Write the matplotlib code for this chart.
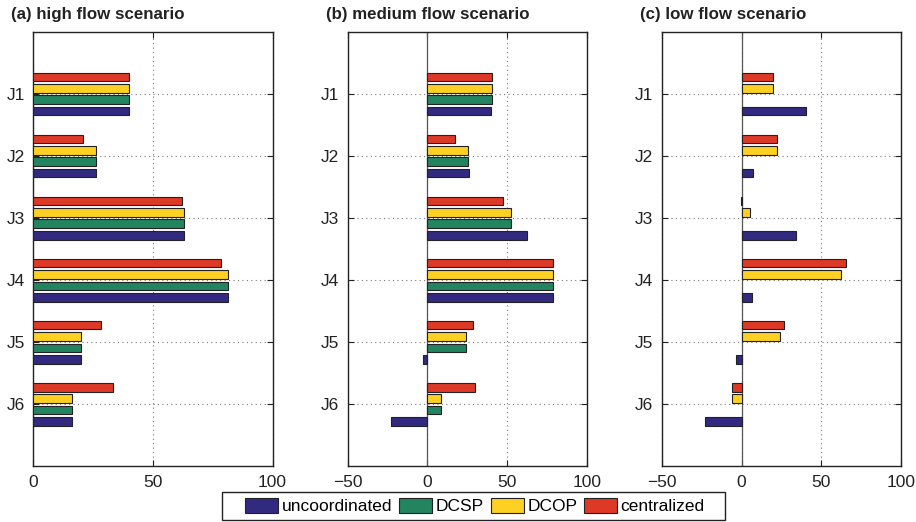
import numpy as np
import matplotlib
matplotlib.use("Agg")
import matplotlib.pyplot as plt
from matplotlib.patches import Patch, Rectangle

plt.rcParams['font.family'] = ['Liberation Sans', 'DejaVu Sans']

# ====== data =======
jobs = ["J1", "J2", "J3", "J4", "J5", "J6"]
methods = ["uncoordinated", "DCSP", "DCOP", "centralized"]
colors = ["#312a80", "#23855f", "#fdd023", "#dd3926"]
titles = ["(a) high flow scenario", "(b) medium flow scenario", "(c) low flow scenario"]

# high flow
high_unc = [40, 26.2, 63.2, 81.5, 20, 16.2]
high_dcsp = [40, 26.2, 63, 81.3, 20, 16.2]
high_dcop = [40, 26.2, 63, 81.3, 20, 16.2]
high_cen = [40, 21, 62.2, 78.4, 28.2, 33.3]

# medium flow
med_unc = [40, 26.4, 62.5, 78.9, -2.9, -23]
med_dcsp = [40.3, 25.2, 52.7, 78.7, 24.3, 8.8]
med_dcop = [40.3, 25.2, 52.7, 78.7, 24.3, 8.8]
med_cen = [40.3, 17.4, 47.6, 78.7, 28.7, 29.6]

# low flow (no DCSP result)
low_unc = [40.2, 7.1, 33.9, 6.7, -3.3, -23]
low_dcsp = [np.nan] * 6
low_dcop = [20, 22.4, 5.4, 62.1, 24.3, -5.9]
low_cen = [20, 22.2, -0.3, 65.5, 26.8, -5.9]

scenarios = [
    [high_unc, high_dcsp, high_dcop, high_cen],
    [med_unc, med_dcsp, med_dcop, med_cen],
    [low_unc, low_dcsp, low_dcop, low_cen],
]

# ====== plot =======
fig = plt.figure(figsize=(9.16, 5.22), dpi=100)
W, H = 916, 522
lefts = [33, 347.5, 661.7]
width = 239.5
top, bottom = 32, 466.3

y = np.arange(1, len(jobs) + 1)
offsets = [0.275, 0.092, -0.092, -0.275]
bar_h = 0.14

for k in range(3):
    ax = fig.add_axes([lefts[k] / W, 1 - bottom / H, width / W, (bottom - top) / H])
    for vals, col, off in zip(scenarios[k], colors, offsets):
        ax.barh(y + off, vals, height=bar_h, color=col, edgecolor="#222222",
                linewidth=0.8, zorder=3)
    if k == 0:
        ax.set_xlim(0, 100)
        ax.set_xticks([0, 50, 100])
        ax.set_xticklabels(["0", "50", "100"])
    else:
        ax.set_xlim(-50, 100)
        ax.set_xticks([-50, 0, 50, 100])
        ax.set_xticklabels(["\u221250", "0", "50", "100"])
        ax.axvline(0, color="#555555", linewidth=0.9, zorder=2)
    ax.set_ylim(7, 0)
    ax.set_yticks(y)
    ax.set_yticklabels(jobs)
    ax.grid(True, linestyle=(0, (1, 3)), color="#777777", linewidth=0.8, zorder=0)
    ax.tick_params(direction="in", top=True, right=True, labelsize=12.5,
                   length=4, width=0.8, pad=6, colors="#222222")
    for s in ax.spines.values():
        s.set_linewidth(1.0)
        s.set_color("#222222")
    fig.text(lefts[k] / W - 22 / W, 1 - 19 / H, titles[k], fontsize=12.2,
             fontweight="bold", ha="left", va="baseline", color="#222222")

# legend: entries without frame, box drawn separately (wider side padding)
handles = [Patch(facecolor=c, edgecolor="#222222", linewidth=0.8) for c in colors]
leg = fig.legend(handles, methods, loc="center", bbox_to_anchor=(475 / W, 1 - 506 / H),
                 ncol=4, fontsize=12.5, frameon=False,
                 handlelength=1.9, handleheight=1.0, handletextpad=0.2,
                 columnspacing=0.4, borderpad=0.0, borderaxespad=0.0)
fig.patches.append(Rectangle((222 / W, 1 - 520 / H), 503 / W, 28 / H,
                             transform=fig.transFigure, fill=False,
                             edgecolor="#222222", linewidth=1.0))

fig.savefig("out.png", dpi=100)
